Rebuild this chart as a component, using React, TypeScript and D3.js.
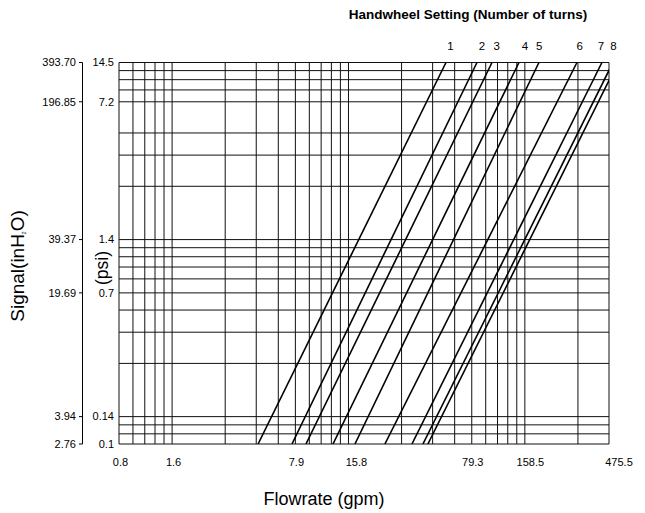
import React from "react";
import * as d3 from "d3";

// Flowrate gridlines (gpm)
const xGridGpm = [
  0.7925, 0.951, 1.1095, 1.268, 1.4265, 1.585, 3.17, 4.755, 6.34, 7.925, 9.51,
  11.095, 12.68, 14.265, 15.85, 31.7, 47.55, 63.4, 79.25, 95.1, 110.95, 126.8,
  142.65, 158.5, 317, 475.5,
];
// Signal gridlines (inH2O)
const yGridInH2O = [
  393.7, 354.33, 314.96, 275.59, 236.22, 157.48, 118.11, 78.74, 39.37, 35.43,
  31.5, 27.56, 23.62, 19.69, 15.75, 11.81, 7.87, 3.94, 3.54, 3.15, 2.76,
];

const xTickValues = [0.7925, 1.585, 7.925, 15.85, 79.25, 158.5, 475.5];
const xTickLabels = ["0.8", "1.6", "7.9", "15.8", "79.3", "158.5", "475.5"];

const yTickValues = [393.7, 236.22, 39.37, 19.69, 3.94, 2.76];
const yTickLabelsInH2O = ["393.70", "196.85", "39.37", "19.69", "3.94", "2.76"];
const yTickLabelsPsi = ["14.5", "7.2", "1.4", "0.7", "0.14", "0.1"];

// Handwheel lines: flow at the lowest signal (2.76 inH2O) and at the highest (393.7 inH2O)
const lineFlowLow = [4.87, 7.58, 9.1, 12.95, 17.25, 25.5, 36.3, 41.9, 44.7];
const lineFlowHigh = [56.6, 84.8, 103.2, 146.8, 190.5, 312.9, 433.5, 500.6, 534.4];

const turnLabels = ["1", "2", "3", "4", "5", "6", "7", "8"];
const turnLabelFlow = [60.0, 90.5, 109.7, 158.7, 191.3, 324, 428, 504];

const FONT = "'Liberation Sans', Arial, Helvetica, sans-serif";
const xLabelNudge = [1.5, 1.5, 1, 8, 1, 5.5, 10];

export default function App() {
  const W = 645;
  const H = 513;
  const x = d3.scaleLog().domain([0.7925, 475.5]).range([119, 609]);
  const y = d3.scaleLog().domain([2.76, 393.7]).range([444, 62.5]);
  const [x0, x1] = x.range();
  const [yb, yt] = y.range();
  const line = d3
    .line<[number, number]>()
    .x((d) => x(d[0]))
    .y((d) => y(d[1]));
  const axisX = 82.5;

  return (
    <svg
      width={W}
      height={H}
      style={{ position: "absolute", left: 0, top: 0, background: "#fff" }}
      fontFamily={FONT}
    >
      <defs>
        <clipPath id="plotClip">
          <rect x={x0} y={yt} width={x1 - x0} height={yb - yt} />
        </clipPath>
      </defs>
      <rect width={W} height={H} fill="#fff" />
      {/* grid */}
      <g stroke="#111" strokeWidth={1}>
        {xGridGpm.map((v, i) => (
          <line key={"vx" + i} x1={x(v)} x2={x(v)} y1={yt} y2={yb} />
        ))}
        {yGridInH2O.map((v, i) => (
          <line key={"hy" + i} x1={x0} x2={x1} y1={y(v)} y2={y(v)} />
        ))}
      </g>
      {/* handwheel lines */}
      <g clipPath="url(#plotClip)" fill="none" stroke="#000" strokeWidth={1.6}>
        {lineFlowLow.map((lo, i) => (
          <path
            key={"l" + i}
            d={
              line([
                [lo, 2.76],
                [lineFlowHigh[i], 393.7],
              ]) || ""
            }
          />
        ))}
      </g>
      {/* turn labels */}
      <g fontSize={11.5} textAnchor="middle" fill="#000">
        {turnLabels.map((t, i) => (
          <text key={"t" + i} x={x(turnLabelFlow[i])} y={50}>
            {t}
          </text>
        ))}
      </g>
      <text
        x={468}
        y={19}
        fontSize={13.5}
        fontWeight="bold"
        textAnchor="middle"
        fill="#000"
      >
        Handwheel Setting (Number of turns)
      </text>
      {/* left inH2O axis */}
      <line x1={axisX} x2={axisX} y1={y(393.7)} y2={y(2.76)} stroke="#000" strokeWidth={1} />
      {yTickValues.map((v, i) => (
        <g key={"yt" + i}>
          <line x1={axisX - 3.5} x2={axisX} y1={y(v)} y2={y(v)} stroke="#000" strokeWidth={1} />
          <text
            x={76}
            y={y(v)}
            dy="0.35em"
            fontSize={11}
            textAnchor="end"
            fill="#000"
          >
            {yTickLabelsInH2O[i]}
          </text>
          <text
            x={114}
            y={y(v)}
            dy="0.35em"
            fontSize={11}
            textAnchor="end"
            fill="#000"
          >
            {yTickLabelsPsi[i]}
          </text>
        </g>
      ))}
      {/* x tick labels */}
      {xTickValues.map((v, i) => (
        <text
          key={"xt" + i}
          x={x(v) + xLabelNudge[i]}
          y={466}
          fontSize={11}
          textAnchor="middle"
          fill="#000"
        >
          {xTickLabels[i]}
        </text>
      ))}
      {/* axis titles */}
      <text x={324} y={505} fontSize={18} textAnchor="middle" fill="#000">
        Flowrate (gpm)
      </text>
      <text
        transform="translate(24,266) rotate(-90)"
        fontSize={19}
        textAnchor="middle"
        fill="#000"
      >
        Signal(inH
        <tspan fontSize={5} dy={2}>
          2
        </tspan>
        <tspan dy={-2}>O)</tspan>
      </text>
      <text
        transform="translate(108,268) rotate(-90)"
        fontSize={17.5}
        textAnchor="middle"
        fill="#000"
      >
        (psi)
      </text>
    </svg>
  );
}
